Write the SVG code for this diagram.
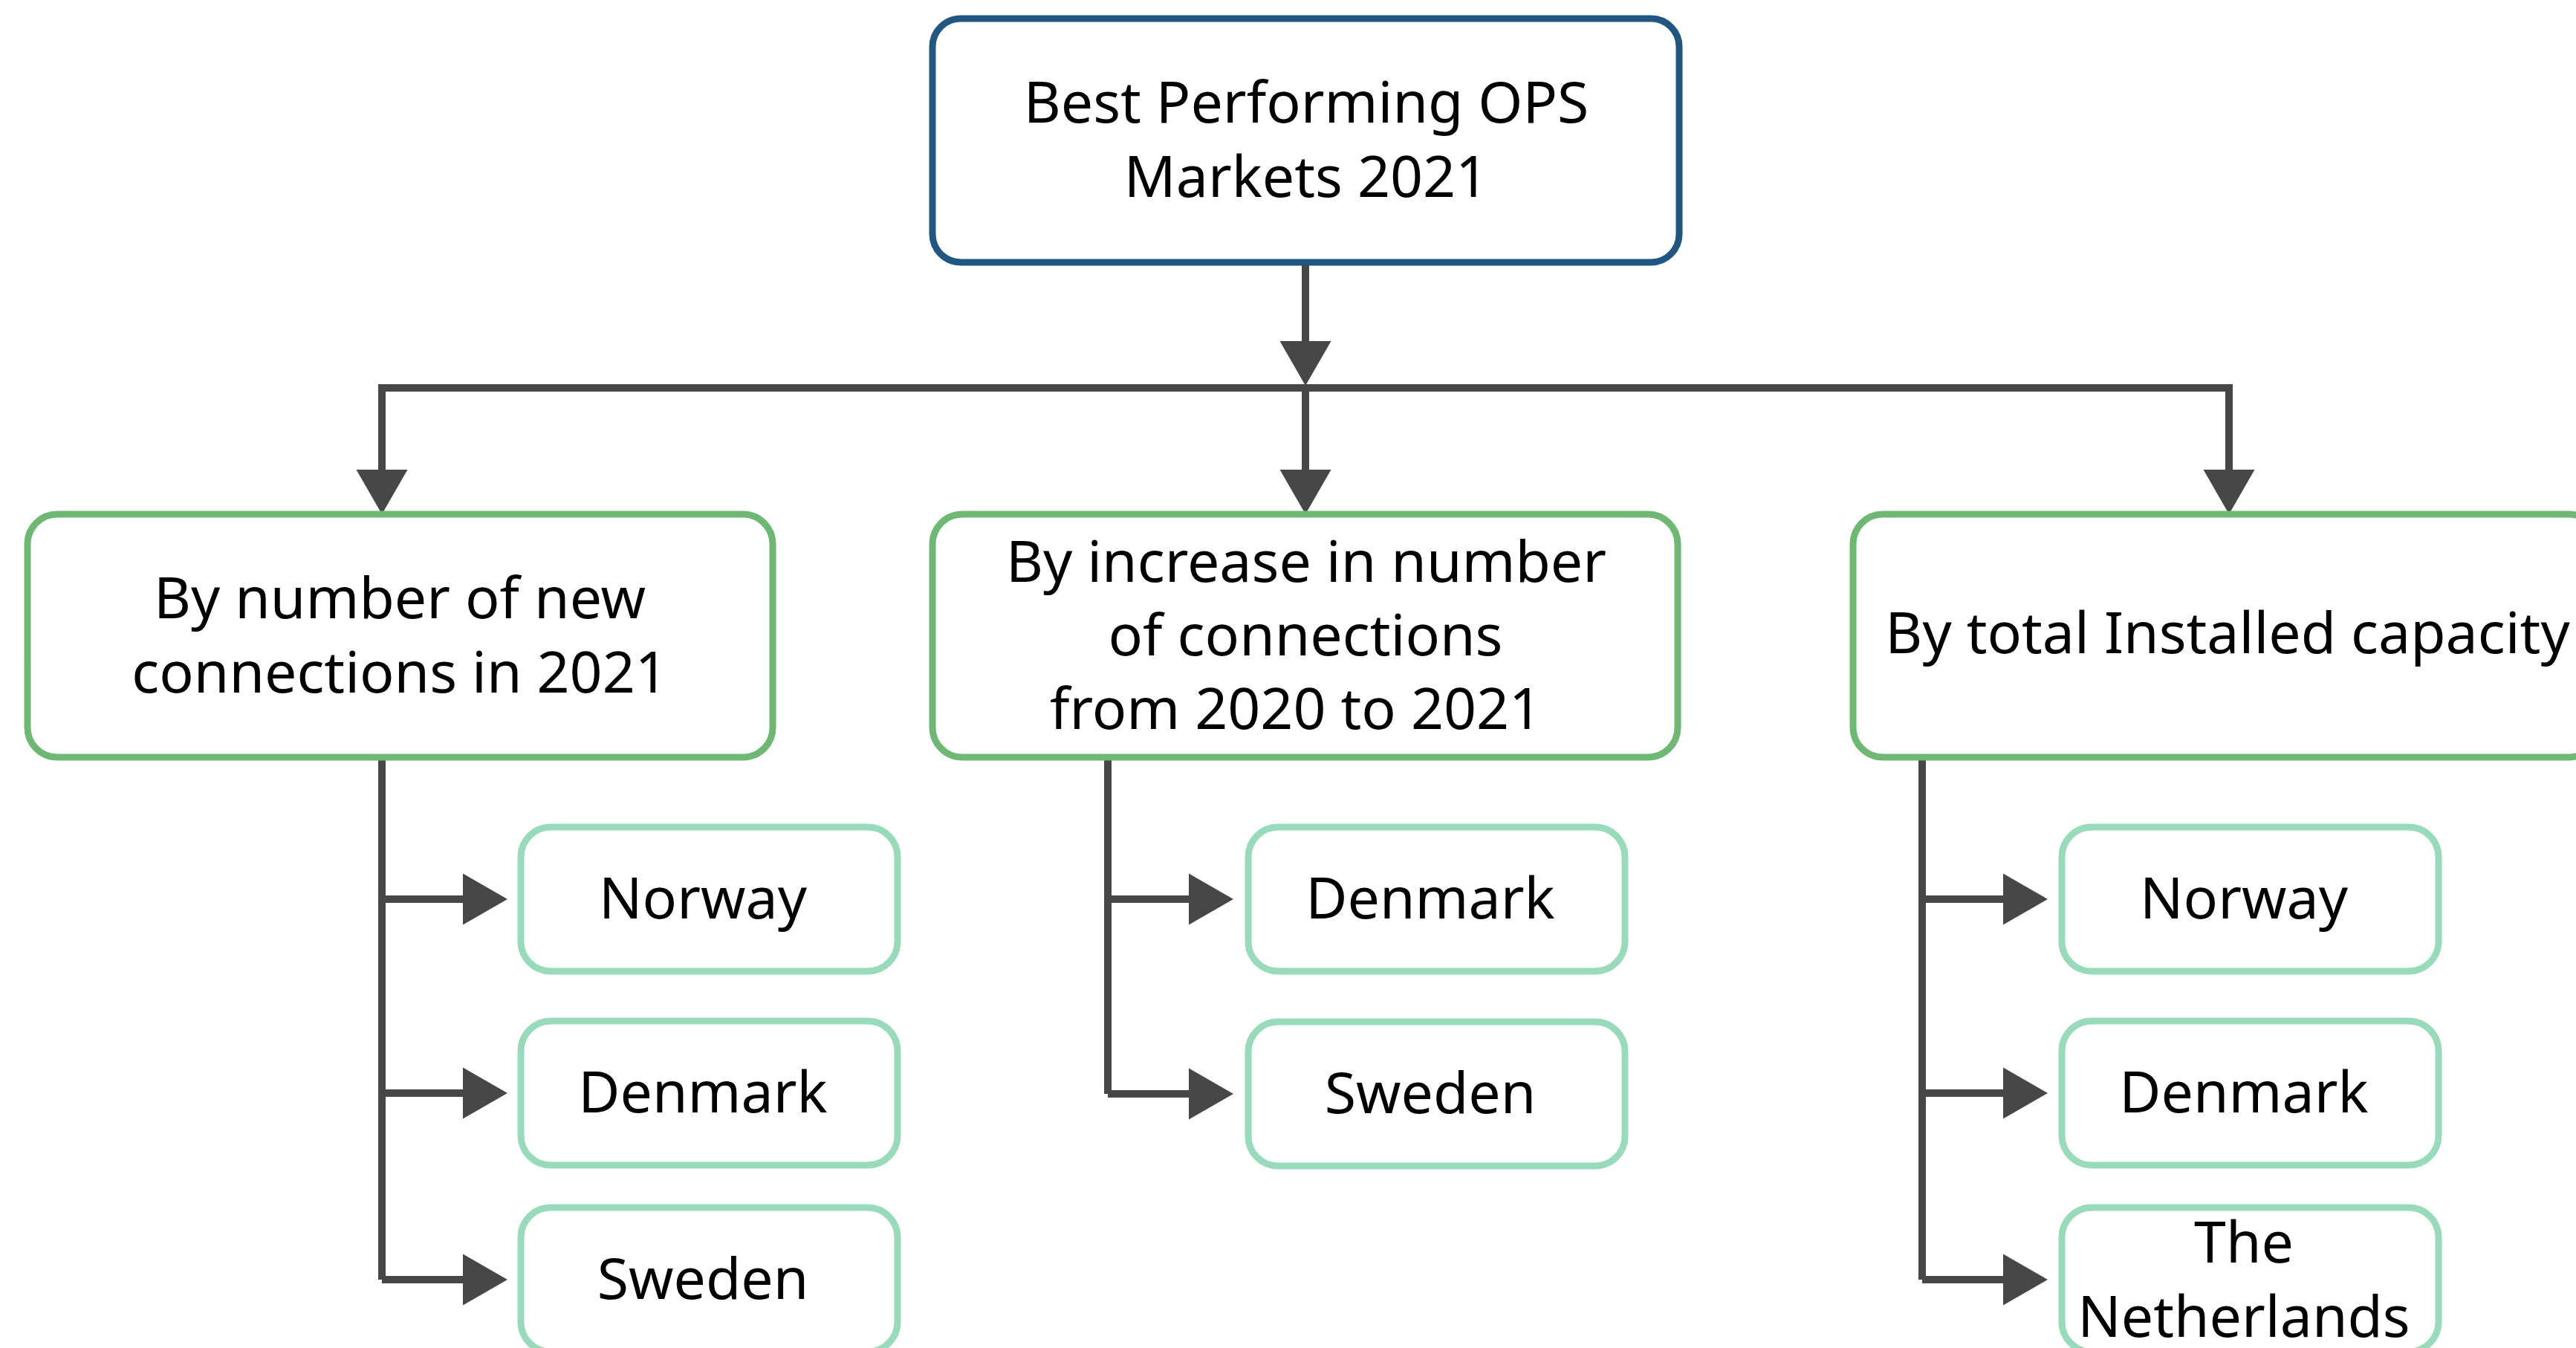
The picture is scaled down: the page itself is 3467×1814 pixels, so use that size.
<svg xmlns="http://www.w3.org/2000/svg" width="3467" height="1814" viewBox="0 0 3467 1814">
<style>
  .root { fill: #ffffff; stroke: #1F5682; stroke-width: 9; }
  .cat { fill: #ffffff; stroke: #6DB872; stroke-width: 9; }
  .leaf { fill: #ffffff; stroke: #98DBBA; stroke-width: 9; }
  text { font-family: "Noto Sans", "Open Sans", "DejaVu Sans", sans-serif; font-size: 77px; fill: #000000; text-anchor: middle; }
  .wire { fill: none; stroke: #474747; stroke-width: 10; stroke-linejoin: miter; stroke-linecap: butt; }
  .head { fill: #474747; stroke: none; }
</style>
<rect x="0" y="0" width="3467" height="1814" fill="#ffffff"/>

<g id="connectors">
  <line class="wire" x1="1757" y1="353" x2="1757" y2="462"/>
  <polygon class="head" points="1722.5,459 1791.5,459 1757,519"/>
  <path class="wire" d="M514,635 V522 H3000 V635"/>
  <line class="wire" x1="1757" y1="522" x2="1757" y2="635"/>
  <polygon class="head" points="479.5,632 548.5,632 514,692"/>
  <polygon class="head" points="1722.5,632 1791.5,632 1757,692"/>
  <polygon class="head" points="2965.5,632 3034.5,632 3000,692"/>

  <line class="wire" x1="514" y1="1019" x2="514" y2="1722"/>
  <line class="wire" x1="514" y1="1210" x2="626" y2="1210"/>
  <line class="wire" x1="514" y1="1471" x2="626" y2="1471"/>
  <line class="wire" x1="514" y1="1722" x2="626" y2="1722"/>
  <polygon class="head" points="623,1175.5 623,1244.5 683,1210"/>
  <polygon class="head" points="623,1436.5 623,1505.5 683,1471"/>
  <polygon class="head" points="623,1687.5 623,1756.5 683,1722"/>

  <line class="wire" x1="1491" y1="1019" x2="1491" y2="1472"/>
  <line class="wire" x1="1491" y1="1210" x2="1603" y2="1210"/>
  <line class="wire" x1="1491" y1="1472" x2="1603" y2="1472"/>
  <polygon class="head" points="1600,1175.5 1600,1244.5 1660,1210"/>
  <polygon class="head" points="1600,1437.5 1600,1506.5 1660,1472"/>

  <line class="wire" x1="2587" y1="1019" x2="2587" y2="1722"/>
  <line class="wire" x1="2587" y1="1210" x2="2699" y2="1210"/>
  <line class="wire" x1="2587" y1="1471" x2="2699" y2="1471"/>
  <line class="wire" x1="2587" y1="1722" x2="2699" y2="1722"/>
  <polygon class="head" points="2696,1175.5 2696,1244.5 2756,1210"/>
  <polygon class="head" points="2696,1436.5 2696,1505.5 2756,1471"/>
  <polygon class="head" points="2696,1687.5 2696,1756.5 2756,1722"/>
</g>

<g id="root">
  <rect class="root" x="1255" y="25" width="1005" height="328" rx="38" ry="38"/>
  <text x="1758" y="165">Best Performing OPS</text>
  <text x="1758" y="265">Markets 2021</text>
</g>

<g id="cat-new">
  <rect class="cat" x="37" y="692" width="1003" height="327" rx="40" ry="40"/>
  <text x="538" y="832">By number of new</text>
  <text x="538" y="932">connections in 2021</text>
</g>

<g id="cat-increase">
  <rect class="cat" x="1255" y="692" width="1003" height="327" rx="40" ry="40"/>
  <text x="1758" y="783">By increase in number</text>
  <text x="1757" y="882">of connections</text>
  <text x="1744" y="981">from 2020 to 2021</text>
</g>

<g id="cat-capacity">
  <rect class="cat" x="2494" y="692" width="1003" height="327" rx="40" ry="40"/>
  <text x="2998" y="879">By total Installed capacity</text>
</g>

<g id="new-norway">
  <rect class="leaf" x="701" y="1113" width="507" height="194" rx="40" ry="40"/>
  <text x="946" y="1236">Norway</text>
</g>
<g id="new-denmark">
  <rect class="leaf" x="701" y="1374" width="507" height="194" rx="40" ry="40"/>
  <text x="946" y="1497">Denmark</text>
</g>
<g id="new-sweden">
  <rect class="leaf" x="701" y="1625" width="507" height="194" rx="40" ry="40"/>
  <text x="946" y="1748">Sweden</text>
</g>

<g id="inc-denmark">
  <rect class="leaf" x="1680" y="1113" width="507" height="194" rx="40" ry="40"/>
  <text x="1925" y="1236">Denmark</text>
</g>
<g id="inc-sweden">
  <rect class="leaf" x="1680" y="1375" width="507" height="194" rx="40" ry="40"/>
  <text x="1925" y="1498">Sweden</text>
</g>

<g id="cap-norway">
  <rect class="leaf" x="2775" y="1113" width="507" height="194" rx="40" ry="40"/>
  <text x="3020" y="1236">Norway</text>
</g>
<g id="cap-denmark">
  <rect class="leaf" x="2775" y="1374" width="507" height="194" rx="40" ry="40"/>
  <text x="3020" y="1497">Denmark</text>
</g>
<g id="cap-netherlands">
  <rect class="leaf" x="2775" y="1625" width="507" height="194" rx="40" ry="40"/>
  <text x="3020" y="1699">The</text>
  <text x="3020" y="1799">Netherlands</text>
</g>
</svg>
